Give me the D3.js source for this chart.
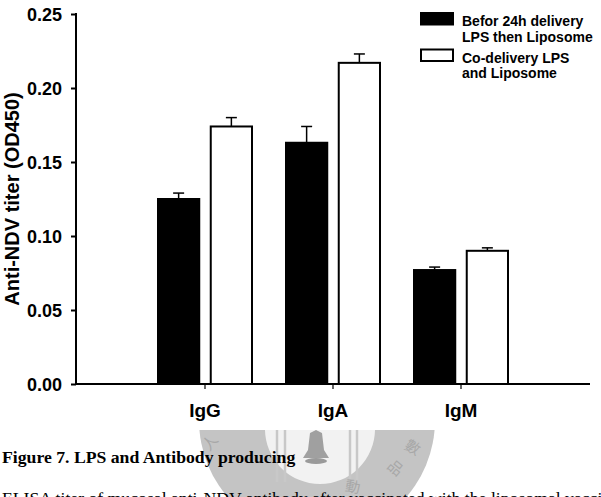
<!DOCTYPE html>
<html>
<head>
<meta charset="utf-8">
<script src="https://cdn.jsdelivr.net/npm/d3@7"></script>
<style>
  html, body { margin: 0; padding: 0; background: #ffffff; }
  svg { display: block; }
</style>
</head>
<body>
<svg id="chart" width="601" height="497"></svg>
<script>
// ---- data ----
const categories = ["IgG", "IgA", "IgM"];
const seriesNames = ["Befor 24h delivery\nLPS then Liposome", "Co-delivery LPS\nand Liposome"];
const seriesBefore = [0.125, 0.163, 0.077];
const errorBefore  = [0.004, 0.011, 0.002];
const seriesCo     = [0.174, 0.217, 0.090];
const errorCo      = [0.006, 0.006, 0.002];
const yTicks = [0.00, 0.05, 0.10, 0.15, 0.20, 0.25];
const yTitle = "Anti-NDV titer (OD450)";
const caption = "Figure 7. LPS and Antibody producing";
const bodyText = "ELISA titer of mucosal anti-NDV antibody after vaccinated with the liposomal vaccine";
const watermarkChars = ["數", "品", "動", "人"];

const svg = d3.select("#chart");
const fontSans = "Arial, 'Liberation Sans', Helvetica, sans-serif";
const fontSerif = "'Times New Roman', 'Liberation Serif', Times, serif";

// ---- watermark (decorative seal behind caption) ----
const wm = svg.append("g").attr("class", "watermark");
wm.append("defs").append("clipPath").attr("id", "wmclip")
  .append("rect").attr("x", 0).attr("y", 430).attr("width", 601).attr("height", 80);
const wmg = wm.append("g").attr("clip-path", "url(#wmclip)");
wmg.append("circle").attr("cx", 317).attr("cy", 420).attr("r", 118).attr("fill", "#c4c4c4");
wmg.append("circle").attr("cx", 320).attr("cy", 429).attr("r", 55).attr("fill", "#f2f2f2");
[277, 285, 350, 357].forEach(x => {
  wmg.append("line").attr("x1", x).attr("x2", x).attr("y1", 430).attr("y2", 482)
    .attr("stroke", "#c8c8c8").attr("stroke-width", 2.5);
});
wmg.append("path")
  .attr("d", "M316,430 L310,433 L308,450 L303,458 L329,458 L324,450 L322,433 Z")
  .attr("fill", "#a0a0a0");
wmg.append("ellipse").attr("cx", 316).attr("cy", 461).attr("rx", 11).attr("ry", 3).attr("fill", "#9a9a9a");
const wmPos = [[410, 452, 30], [392, 472, 40], [352, 492, 10], [214, 446, -50]];
watermarkChars.forEach((c, i) => {
  wmg.append("text").text(c)
    .attr("transform", `translate(${wmPos[i][0]},${wmPos[i][1]}) rotate(${wmPos[i][2]})`)
    .attr("text-anchor", "middle")
    .attr("font-family", "'Noto Sans CJK TC', 'Noto Sans CJK SC', sans-serif")
    .attr("font-size", 15).attr("fill", "#a8a8a8");
});

// ---- scales ----
const plotLeft = 76, plotRight = 590, plotTop = 14, plotBottom = 384;
const y = d3.scaleLinear().domain([0, 0.25]).range([plotBottom, plotTop]);
const x0 = d3.scaleBand().domain(categories).range([141, 525]).padding(0);
const x1 = d3.scaleBand().domain([0, 1]).range([16, x0.bandwidth() - 16]).paddingInner(0.18);

const data = categories.map((c, i) => ({
  cat: c,
  vals: [
    { s: 0, v: seriesBefore[i], e: errorBefore[i] },
    { s: 1, v: seriesCo[i], e: errorCo[i] }
  ]
}));

// ---- error bars (upper only) ----
const groups = svg.append("g").selectAll("g").data(data).join("g")
  .attr("transform", d => `translate(${x0(d.cat)},0)`);

groups.selectAll("g.err").data(d => d.vals).join("g").attr("class", "err")
  .each(function(d) {
    const g = d3.select(this);
    const cx = x1(d.s) + x1.bandwidth() / 2;
    g.append("line").attr("x1", cx).attr("x2", cx)
      .attr("y1", y(d.v)).attr("y2", y(d.v + d.e))
      .attr("stroke", "#000").attr("stroke-width", 1.5);
    g.append("line").attr("x1", cx - 5.5).attr("x2", cx + 5.5)
      .attr("y1", y(d.v + d.e)).attr("y2", y(d.v + d.e))
      .attr("stroke", "#000").attr("stroke-width", 1.5);
  });

// ---- bars ----
groups.selectAll("rect").data(d => d.vals).join("rect")
  .attr("x", d => x1(d.s) + 1)
  .attr("width", x1.bandwidth() - 2)
  .attr("y", d => y(d.v))
  .attr("height", d => y(0) - y(d.v))
  .attr("fill", d => d.s === 0 ? "#000" : "#fff")
  .attr("stroke", "#000").attr("stroke-width", 2);

// ---- axes ----
const yAxis = d3.axisLeft(y).tickValues(yTicks).tickFormat(d3.format(".2f")).tickSize(5).tickPadding(9);
const gy = svg.append("g").attr("transform", `translate(${plotLeft},0)`).call(yAxis);
gy.select(".domain").remove();
gy.selectAll(".tick line").attr("stroke", "#000").attr("stroke-width", 2);
gy.selectAll("text").attr("font-family", fontSans).attr("font-weight", "bold")
  .attr("font-size", 18).attr("fill", "#000").attr("dy", "0.36em");
svg.append("line").attr("x1", plotLeft).attr("x2", plotLeft)
  .attr("y1", plotTop - 1).attr("y2", plotBottom + 1)
  .attr("stroke", "#000").attr("stroke-width", 2);

const xAxis = d3.axisBottom(x0).tickSize(5).tickPadding(15);
const gx = svg.append("g").attr("transform", `translate(0,${plotBottom})`).call(xAxis);
gx.select(".domain").remove();
gx.selectAll(".tick line").attr("stroke", "#000").attr("stroke-width", 1.2);
gx.selectAll("text").attr("font-family", fontSans).attr("font-weight", "bold")
  .attr("font-size", 19).attr("fill", "#000");
svg.append("line").attr("x1", plotLeft - 1).attr("x2", plotRight)
  .attr("y1", plotBottom).attr("y2", plotBottom)
  .attr("stroke", "#000").attr("stroke-width", 2.2);

// y title
svg.append("text").text(yTitle)
  .attr("transform", `translate(18.5,${(plotTop + plotBottom) / 2}) rotate(-90)`)
  .attr("text-anchor", "middle")
  .attr("font-family", fontSans).attr("font-weight", "bold")
  .attr("font-size", 20).attr("fill", "#000");

// ---- legend ----
const legend = svg.append("g");
const legendTops = [13, 49.5];
seriesNames.forEach((name, i) => {
  legend.append("rect").attr("x", 421).attr("y", legendTops[i])
    .attr("width", 32).attr("height", 11.5)
    .attr("fill", i === 0 ? "#000" : "#fff")
    .attr("stroke", "#000").attr("stroke-width", 2);
  const t = legend.append("text")
    .attr("font-family", fontSans).attr("font-weight", "bold")
    .attr("font-size", 14).attr("fill", "#000");
  name.split("\n").forEach((line, j) => {
    t.append("tspan").attr("x", 462).attr("y", legendTops[i] + 13 + j * 15.5).text(line);
  });
});

// ---- caption ----
svg.append("text").text(caption)
  .attr("x", 2).attr("y", 463)
  .attr("font-family", fontSerif).attr("font-weight", "bold")
  .attr("font-size", 17.7).attr("fill", "#000");
svg.append("text").text(bodyText)
  .attr("x", 2).attr("y", 504)
  .attr("font-family", fontSerif)
  .attr("font-size", 17.7).attr("fill", "#000");
</script>
</body>
</html>
